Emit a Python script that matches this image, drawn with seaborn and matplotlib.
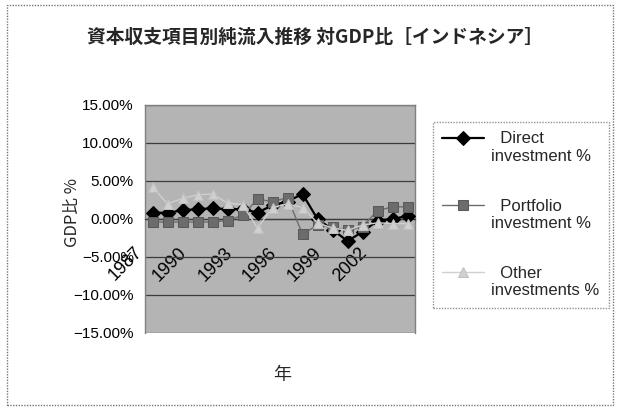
import matplotlib
matplotlib.use("Agg")
import matplotlib.pyplot as plt
import matplotlib.ticker as mticker
from matplotlib.transforms import ScaledTranslation
from matplotlib.patches import Rectangle
from matplotlib.lines import Line2D
import seaborn as sns
import pandas as pd

# Net capital inflows by item, Indonesia, % of GDP
years = list(range(1987, 2005))
direct = [0.85, 0.8, 1.15, 1.3, 1.4, 1.3, 1.3, 0.85, 1.8, 2.3, 3.3, 0.0,
          -1.4, -2.9, -1.7, -0.2, 0.0, 0.4]
portfolio = [-0.4, -0.4, -0.4, -0.4, -0.4, -0.2, 0.5, 2.6, 2.3, 2.8, -2.0, -0.8,
             -1.1, -1.5, -1.0, 1.1, 1.6, 1.6]
other = [4.2, 2.0, 2.7, 3.2, 3.3, 2.1, 1.9, -1.2, 1.5, 2.0, 1.5, -0.5,
         -1.2, -1.5, -0.8, -0.5, -0.6, -0.6]

series_names = ["  Direct\ninvestment %", "  Portfolio\ninvestment %", "  Other\ninvestments %"]
tick_years = [1987, 1990, 1993, 1996, 1999, 2002]
y_ticks = [15, 10, 5, 0, -5, -10, -15]

title = "資本収支項目別純流入推移 対GDP比［インドネシア］"
y_title = "GDP比 %"
x_title = "年"

sns.set_theme(style="white")
plt.rcParams["font.family"] = ["Liberation Sans", "Noto Sans CJK JP", "DejaVu Sans"]
cjk = ["Noto Sans CJK JP", "Liberation Sans", "DejaVu Sans"]

W, H = 619, 408
fig = plt.figure(figsize=(W / 100, H / 100), dpi=100)
fig.patch.set_facecolor("white")

# dotted chart-area border
fig.patches.append(Rectangle((7 / W, 1 - 405 / H), 606 / W, 400 / H,
                             transform=fig.transFigure, fill=False,
                             edgecolor="#777777", linestyle=(0, (1, 1)), linewidth=1))

ax = fig.add_axes([145 / W, 1 - 333 / H, 270 / W, 228 / H])
ax.set_facecolor("#b4b4b4")

df = pd.DataFrame({"year": years, "direct": direct, "portfolio": portfolio, "other": other})

sns.lineplot(data=df, x="year", y="direct", ax=ax, color="black", linewidth=1.6,
             marker="D", markersize=7, markeredgecolor="black", label=series_names[0], zorder=3)
sns.lineplot(data=df, x="year", y="portfolio", ax=ax, color="#6c6c6c", linewidth=1.0,
             marker="s", markersize=6.5, markeredgecolor="#5a5a5a", label=series_names[1], zorder=4)
sns.lineplot(data=df, x="year", y="other", ax=ax, color="#d0d0d0", linewidth=1.0,
             marker="^", markersize=7, markeredgecolor="#c0c0c0", label=series_names[2], zorder=5)

ax.set_xlim(years[0] - 0.5, years[-1] + 0.5)
ax.set_ylim(-15, 15)
ax.set_yticks(y_ticks)
ax.yaxis.set_major_formatter(mticker.FuncFormatter(
    lambda v, p: f"{v:.2f}%".replace("-", "\u2212")))
ax.set_xticks(tick_years)
ax.set_xticklabels([str(y) for y in tick_years])

ax.grid(axis="y", color="#3c3c3c", linewidth=0.9)
ax.grid(axis="x", visible=False)
ax.set_axisbelow(True)

for side in ["top", "right", "left"]:
    ax.spines[side].set_color("#808080")
    ax.spines[side].set_linewidth(1)
ax.spines["bottom"].set_position(("data", 0))
ax.spines["bottom"].set_color("#3c3c3c")
ax.spines["bottom"].set_linewidth(0.9)

ax.tick_params(axis="y", length=0, pad=8, labelsize=11, labelcolor="black")
ax.tick_params(axis="x", length=0, pad=18, labelsize=13, labelcolor="black")
shift = ScaledTranslation(-7 / 100, 0, fig.dpi_scale_trans)
for lbl in ax.get_xticklabels():
    lbl.set_rotation(45)
    lbl.set_ha("right")
    lbl.set_va("top")
    lbl.set_transform(lbl.get_transform() + shift)

ax.set_xlabel("")
ax.set_ylabel("")
fig.text(72 / W, 1 - 212 / H, y_title, rotation=90, ha="center", va="center",
         fontsize=12, family=cjk)
fig.text(282 / W, 1 - 375 / H, x_title, ha="center", va="center", fontsize=13, family=cjk)
fig.text(315 / W, 1 - 37 / H, title, ha="center", va="center", fontsize=13.5,
         fontweight="bold", family=cjk)

leg = ax.legend(loc="upper left", bbox_to_anchor=(433 / W, 1 - 122 / H),
                bbox_transform=fig.transFigure, frameon=True, fancybox=False,
                fontsize=12, handlelength=2.5, handletextpad=0.45, labelspacing=2.1,
                borderpad=0.55, borderaxespad=0)
frame = leg.get_frame()
frame.set_edgecolor("#777777")
frame.set_linestyle((0, (1, 1)))
frame.set_linewidth(1)
frame.set_facecolor("white")

# legend symbols sit level with the first line of each two-line label
lift = ScaledTranslation(0, 10 / 100, fig.dpi_scale_trans)
for art in leg.findobj(Line2D):
    art.set_transform(art.get_transform() + lift)

fig.savefig("out.png", dpi=100, facecolor="white")
